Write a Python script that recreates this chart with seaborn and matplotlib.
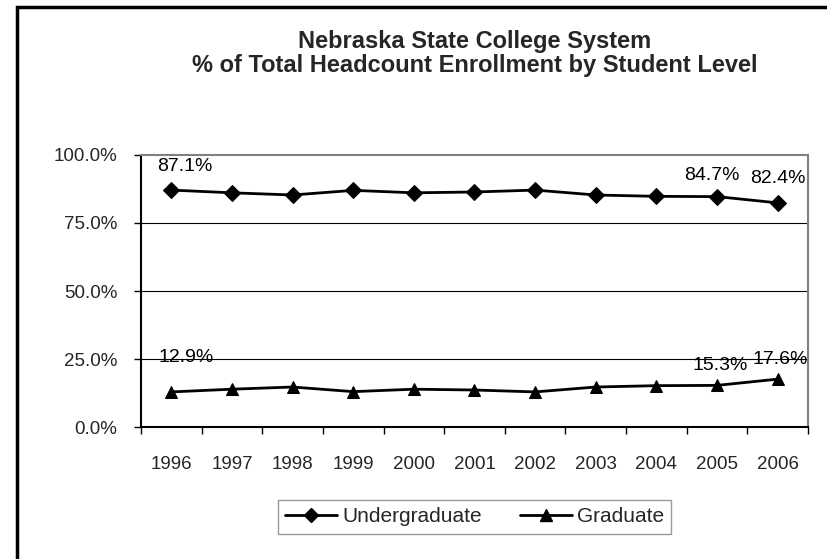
import matplotlib
matplotlib.use("Agg")
import matplotlib.pyplot as plt
import seaborn as sns
import pandas as pd
from matplotlib.patches import Rectangle
from matplotlib.lines import Line2D

years = ["1996", "1997", "1998", "1999", "2000", "2001", "2002", "2003", "2004", "2005", "2006"]
undergraduate = [87.1, 86.1, 85.3, 87.0, 86.1, 86.4, 87.1, 85.3, 84.8, 84.7, 82.4]
graduate = [12.9, 13.9, 14.7, 13.0, 13.9, 13.6, 12.9, 14.7, 15.2, 15.3, 17.6]
labelled_years = ["1996", "2005", "2006"]
y_ticks = [0, 25, 50, 75, 100]
title = "Nebraska State College System\n% of Total Headcount Enrollment by Student Level"

# label placement (pixels, relative to the point) - styling only
label_offsets = {
    ("Undergraduate", "1996"): (13, 24), ("Undergraduate", "2005"): (-5, 21),
    ("Undergraduate", "2006"): (0, 24),
    ("Graduate", "1996"): (15, 34), ("Graduate", "2005"): (3, 20),
    ("Graduate", "2006"): (3, 20),
}

sns.set_theme(style="white")
plt.rcParams["font.family"] = ["Liberation Sans", "DejaVu Sans"]

W, H = 828, 559
fig = plt.figure(figsize=(W / 100, H / 100), dpi=100)
L, R, T, B = 141, 808, 155, 427
ax = fig.add_axes([L / W, 1 - B / H, (R - L) / W, (B - T) / H])

df = pd.DataFrame({
    "pos": list(range(len(years))) * 2,
    "year": years * 2,
    "value": undergraduate + graduate,
    "level": ["Undergraduate"] * len(years) + ["Graduate"] * len(years),
})

for lvl, mk, ms in [("Undergraduate", "D", 8), ("Graduate", "^", 8.5)]:
    sub = df[df["level"] == lvl]
    sns.lineplot(data=sub, x="pos", y="value", ax=ax, color="black", linewidth=2,
                 marker=mk, markersize=ms, markeredgecolor="black", markerfacecolor="black",
                 legend=False)
    for _, r in sub.iterrows():
        if r["year"] in labelled_years:
            dx, dy = label_offsets[(lvl, r["year"])]
            ax.annotate(f"{r['value']:.1f}%", (r["pos"], r["value"]),
                        xytext=(dx * 0.72, dy * 0.72),
                        textcoords="offset points", ha="center", va="center", fontsize=14,
                        color="black")

ax.set_xlim(-0.5, len(years) - 0.5)
ax.set_ylim(0, 100)
ax.set_yticks(y_ticks)
ax.set_yticklabels([f"{v:.1f}%" for v in y_ticks], fontsize=13.5)
ax.set_xticks([i - 0.5 for i in range(len(years) + 1)])
ax.set_xticklabels([])
ax.set_xticks(range(len(years)), minor=True)
ax.set_xticklabels(years, minor=True, fontsize=13.5)
ax.tick_params(axis="x", which="major", direction="out", length=5, width=1, color="black", bottom=True)
ax.tick_params(axis="x", which="minor", length=0, pad=21)
ax.tick_params(axis="y", direction="out", length=5, width=1, color="black", left=True, pad=12)
ax.set_xlabel("")
ax.set_ylabel("")

for v in [25, 50, 75]:
    ax.axhline(v, color="black", linewidth=0.8, zorder=0)

ax.spines["left"].set_color("black")
ax.spines["bottom"].set_color("black")
ax.spines["top"].set_color("#808080")
ax.spines["right"].set_color("#808080")
for s in ax.spines.values():
    s.set_linewidth(1.5)
    s.set_visible(True)

fig.text((L + R) / 2 / W, 1 - 30 / H, title, ha="center", va="top", fontsize=17,
         fontweight="bold", linespacing=1.05)

handles = [
    Line2D([], [], color="black", lw=2, marker="D", markersize=7, label="Undergraduate"),
    Line2D([], [], color="black", lw=2, marker="^", markersize=8, label="Graduate"),
]
leg = fig.legend(handles=handles, loc="center", bbox_to_anchor=((L + R) / 2 / W, 1 - 517 / H),
                 ncol=2, fontsize=15, frameon=True, fancybox=False, handlelength=2.5,
                 handletextpad=0.25, columnspacing=1.8, borderpad=0.35)
leg.get_frame().set_edgecolor("#808080")
leg.get_frame().set_linewidth(1)

fig.add_artist(Rectangle((17 / W, -0.1), 1.2, 1 - 7 / H + 0.1, transform=fig.transFigure,
                         fill=False, edgecolor="black", linewidth=2.5, clip_on=False))

fig.savefig("out.png", dpi=100)
